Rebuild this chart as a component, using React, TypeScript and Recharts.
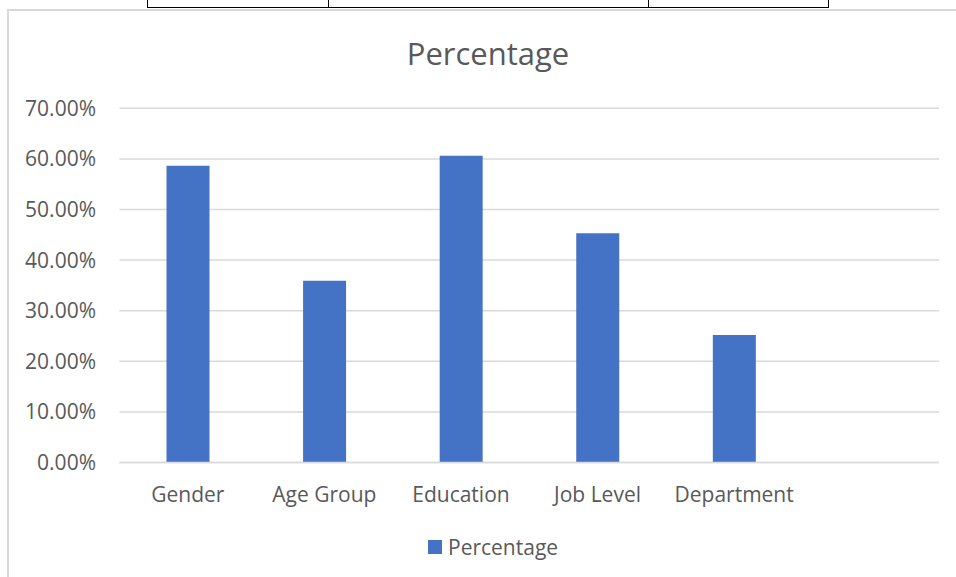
import React from 'react';
import { BarChart, Bar, XAxis, YAxis, CartesianGrid, Legend } from 'recharts';

const categories = ['Gender', 'Age Group', 'Education', 'Job Level', 'Department', ''];
const percentages: Array<number | null> = [58.66, 35.93, 60.63, 45.3, 25.2, null];
const yTicks = [0, 10, 20, 30, 40, 50, 60, 70];

const data = categories.map((name, i) => ({ name, Percentage: percentages[i] }));

const BAR_COLOR = '#4472C4';
const TEXT_COLOR = '#595959';
const GRID_COLOR = '#D9D9D9';
const FONT = '"Open Sans", sans-serif';

const tickStyle = { fill: TEXT_COLOR, fontSize: 21, fontFamily: FONT };

// small legend, drawn by hand so its height is known
const renderLegend = () => (
  <div style={{ height: 30, display: 'flex', alignItems: 'center', paddingLeft: 428 }}>
    <span style={{ width: 14, height: 14, background: BAR_COLOR, display: 'inline-block', marginRight: 6 }} />
    <span style={{ fontFamily: FONT, fontSize: 21, color: TEXT_COLOR, lineHeight: '30px' }}>Percentage</span>
  </div>
);

const line = (left: number, top: number, width: number, height: number, color: string) => (
  <div style={{ position: 'absolute', left, top, width, height, background: color }} />
);

export default function App() {
  return (
    <div style={{ position: 'fixed', left: 0, top: 0, width: 956, height: 577, background: '#fff', overflow: 'hidden' }}>
      {/* bottom of the document table above the chart */}
      {line(147, 7, 682, 1.3, '#000')}
      {line(147, 0, 1.3, 8, '#000')}
      {line(328, 0, 1.3, 8, '#000')}
      {line(647.5, 0, 1.3, 8, '#000')}
      {line(827.5, 0, 1.3, 8, '#000')}

      {/* chart frame */}
      {line(6.5, 9, 960, 2, GRID_COLOR)}
      {line(6.5, 9, 2, 580, GRID_COLOR)}

      <div
        style={{
          position: 'absolute',
          left: 338,
          top: 37.5,
          width: 300,
          textAlign: 'center',
          fontFamily: FONT,
          fontSize: 31,
          lineHeight: 1,
          color: TEXT_COLOR,
        }}
      >
        Percentage
      </div>

      <div style={{ position: 'absolute', left: 0, top: 0 }}>
        <BarChart width={956} height={577} data={data} margin={{ top: 108.3, right: 17, bottom: 15, left: 0 }}>
          <CartesianGrid vertical={false} stroke={GRID_COLOR} strokeWidth={1.5} />
          <XAxis
            dataKey="name"
            interval={0}
            height={69.5}
            tickLine={false}
            axisLine={{ stroke: GRID_COLOR, strokeWidth: 1.5 }}
            tickSize={0}
            tickMargin={25}
            tick={tickStyle}
          />
          <YAxis
            width={119.5}
            domain={[0, 70]}
            ticks={yTicks}
            tickFormatter={(v: number) => v.toFixed(2) + '%'}
            axisLine={false}
            tickLine={false}
            tickSize={0}
            tickMargin={23.5}
            tick={tickStyle}
          />
          <Legend verticalAlign="bottom" content={renderLegend} wrapperStyle={{ left: 0, width: 956 }} />
          <Bar dataKey="Percentage" fill={BAR_COLOR} barSize={43} isAnimationActive={false} />
        </BarChart>
      </div>
    </div>
  );
}
